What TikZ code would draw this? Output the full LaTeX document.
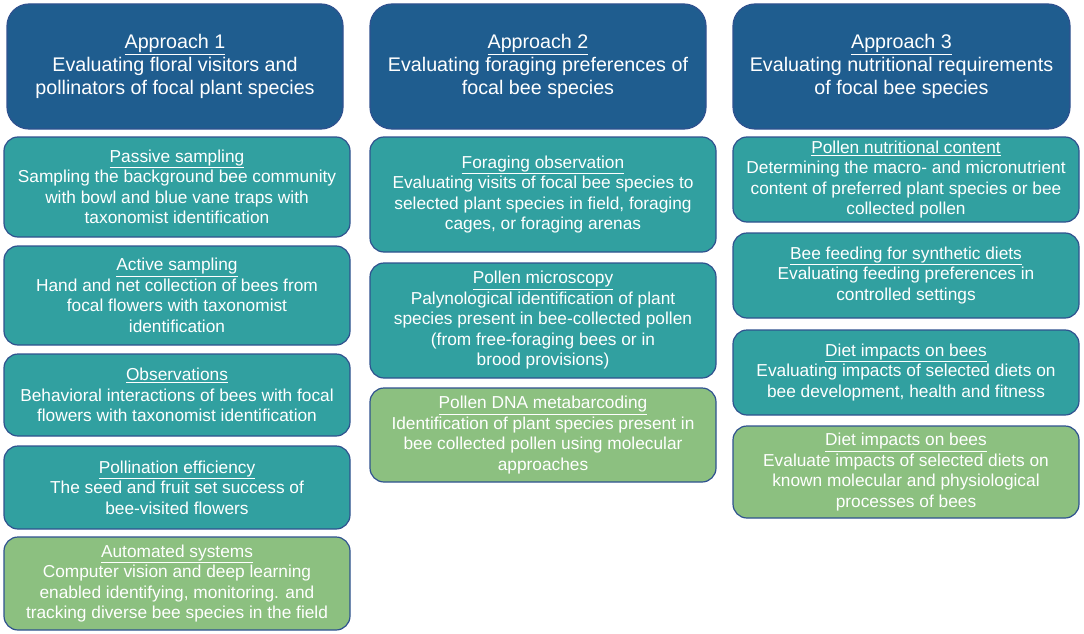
\documentclass[tikz,border=0pt]{standalone}
\usepackage{fontspec}
\setmainfont{Liberation Sans}
\definecolor{hdr}{RGB}{31,93,143}
\definecolor{tealc}{RGB}{49,160,160}
\definecolor{greenc}{RGB}{140,192,128}
\definecolor{edge}{RGB}{47,82,143}
\tikzset{
  base/.style={draw=edge, line width=1.2pt, rounded corners=14pt, text=white, align=center, inner sep=0pt, font=\fontsize{17.3}{20.5}\selectfont},
  hdrbox/.style={base, fill=hdr, rounded corners=22pt, font=\fontsize{19.7}{23}\selectfont},
  tbox/.style={base, fill=tealc},
  gbox/.style={base, fill=greenc},
}
\begin{document}
\begin{tikzpicture}[x=1pt, y=-1pt]
\useasboundingbox (0,0) rectangle (1084,634);
% headers
\node[hdrbox, minimum width=336pt, minimum height=125pt] (h1) at (175,66.5) {\underline{Approach 1}\\Evaluating floral visitors and\\pollinators of focal plant species};
\node[hdrbox, minimum width=336pt, minimum height=125pt] (h2) at (538,66.5) {\underline{Approach 2}\\Evaluating foraging preferences of\\focal bee species};
\node[hdrbox, minimum width=337pt, minimum height=125pt] (h3) at (901.5,66.5) {\underline{Approach 3}\\Evaluating nutritional requirements\\of focal bee species};
% column 1
\node[tbox, minimum width=346pt, minimum height=100pt] (c1a) at (177,187) {\underline{Passive sampling}\\Sampling the background bee community\\with bowl and blue vane traps with\\taxonomist identification};
\node[tbox, minimum width=346pt, minimum height=99pt] (c1b) at (177,295.5) {\underline{Active sampling}\\Hand and net collection of bees from\\focal flowers with taxonomist\\identification};
\node[tbox, minimum width=346pt, minimum height=82pt] (c1c) at (177,395) {\underline{Observations}\\Behavioral interactions of bees with focal\\flowers with taxonomist identification};
\node[tbox, minimum width=346pt, minimum height=83pt] (c1d) at (177,487.5) {\underline{Pollination efficiency}\\The seed and fruit set success of\\bee-visited flowers};
\node[gbox, minimum width=346pt, minimum height=93pt] (c1e) at (177,583.5) {\underline{Automated systems}\\Computer vision and deep learning\\enabled identifying, monitoring. and\\tracking diverse bee species in the field};
% column 2
\node[tbox, minimum width=346pt, minimum height=115pt] (c2a) at (543,194.5) {\underline{Foraging observation}\\Evaluating visits of focal bee species to\\selected plant species in field, foraging\\cages, or foraging arenas};
\node[tbox, minimum width=346pt, minimum height=115pt] (c2b) at (543,320.5) {\underline{Pollen microscopy}\\Palynological identification of plant\\species present in bee-collected pollen\\(from free-foraging bees or in\\brood provisions)};
\node[gbox, minimum width=346pt, minimum height=94pt] (c2c) at (543,435) {\underline{Pollen DNA metabarcoding}\\Identification of plant species present in\\bee collected pollen using molecular\\approaches};
% column 3
\node[tbox, minimum width=346pt, minimum height=85pt] (c3a) at (906,179.5) {\underline{Pollen nutritional content}\\Determining the macro- and micronutrient\\content of preferred plant species or bee\\collected pollen};
\node[tbox, minimum width=346pt, minimum height=85pt] (c3b) at (906,275.5) {\underline{Bee feeding for synthetic diets}\\Evaluating feeding preferences in\\controlled settings};
\node[tbox, minimum width=346pt, minimum height=85pt] (c3c) at (906,372.5) {\underline{Diet impacts on bees}\\Evaluating impacts of selected diets on\\bee development, health and fitness};
\node[gbox, minimum width=346pt, minimum height=92pt] (c3d) at (906,472) {\underline{Diet impacts on bees}\\Evaluate impacts of selected diets on\\known molecular and physiological\\processes of bees};
\end{tikzpicture}
\end{document}
